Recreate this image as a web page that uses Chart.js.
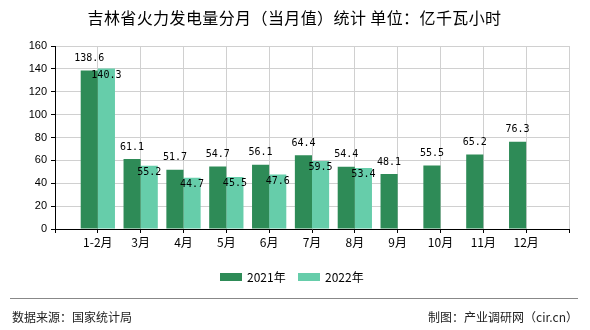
<!DOCTYPE html>
<html>
<head>
<meta charset="utf-8">
<script src="https://cdn.jsdelivr.net/npm/chart.js@4"></script>
<style>
  body { margin: 0; background: #fff; }
  #wrap { position: relative; width: 590px; height: 330px; font-family: "Noto Sans CJK SC", sans-serif; color: #000; }
  #chart { position: absolute; left: 0; top: 0; }
  #title { position: absolute; left: 0; width: 589px; top: 7px; text-align: center; font-size: 16px; line-height: 20px; letter-spacing: 0.4px; }
  .leg { position: absolute; top: 270px; font-size: 12px; line-height: 14px; }
  .leg i { position: absolute; top: 3px; width: 22px; height: 8px; }
  #foot { position: absolute; left: 10px; top: 298px; width: 568px; border-top: 1px solid #888; }
  .src { position: absolute; top: 309px; font-size: 12px; line-height: 16px; color: #222; }
</style>
</head>
<body>
<div id="wrap">
  <canvas id="chart" width="590" height="330"></canvas>
  <div id="title">吉林省火力发电量分月（当月值）统计 单位：亿千瓦小时</div>
  <div class="leg" style="left:220px"><i style="left:0;background:#2e8b57"></i><span style="margin-left:27px">2021年</span></div>
  <div class="leg" style="left:298px"><i style="left:0;background:#66cdaa"></i><span style="margin-left:27px">2022年</span></div>
  <div id="foot"></div>
  <div class="src" style="left:12px">数据来源：国家统计局</div>
  <div class="src" style="right:12px">制图：产业调研网（cir.cn）</div>
</div>
<script>
const meses = ["1-2月", "3月", "4月", "5月", "6月", "7月", "8月", "9月", "10月", "11月", "12月"];
const valores2021 = [138.6, 61.1, 51.7, 54.7, 56.1, 64.4, 54.4, 48.1, 55.5, 65.2, 76.3];
const valores2022 = [140.3, 55.2, 44.7, 45.5, 47.6, 59.5, 53.4];
const ticksY = [0, 20, 40, 60, 80, 100, 120, 140, 160];

// empty slot at each end so bars sit on the grid lines
const labels = ["", ...meses, ""];
const serie = v => [null, ...meses.map((m, i) => (v[i] === undefined ? null : v[i])), null];

const rotulos = {
  id: "rotulos",
  afterDatasetsDraw(chart) {
    const ctx = chart.ctx;
    ctx.save();
    ctx.font = '10px "DejaVu Sans Mono"';
    ctx.fillStyle = "#000";
    ctx.textAlign = "center";
    ctx.textBaseline = "middle";
    chart.data.datasets.forEach((ds, di) => {
      chart.getDatasetMeta(di).data.forEach((el, i) => {
        const v = ds.data[i];
        if (v === null) return;
        const dy = di === 0 ? -12 : 6.5;
        ctx.fillText(v.toFixed(1), el.x, el.y + dy);
      });
    });
    ctx.restore();
  }
};

new Chart(document.getElementById("chart"), {
  type: "bar",
  data: {
    labels: labels,
    datasets: [
      { label: "2021年", data: serie(valores2021), backgroundColor: "#2e8b57", categoryPercentage: 0.8, barPercentage: 1 },
      { label: "2022年", data: serie(valores2022), backgroundColor: "#66cdaa", categoryPercentage: 0.8, barPercentage: 1 }
    ]
  },
  options: {
    responsive: false,
    animation: false,
    layout: { padding: { top: 46, left: 0, right: 21, bottom: 71 } },
    plugins: { legend: { display: false }, title: { display: false }, tooltip: { enabled: false } },
    scales: {
      x: {
        offset: false,
        grid: { offset: false, color: "#d0d0d0", tickColor: "#000", tickLength: 4 },
        border: { color: "#000" },
        ticks: { color: "#000", font: { size: 12, family: '"Noto Sans CJK SC"' }, padding: 2, maxRotation: 0, autoSkip: false },
        afterFit: s => { s.height = 30; }
      },
      y: {
        min: ticksY[0],
        max: ticksY[ticksY.length - 1],
        afterBuildTicks: s => { s.ticks = ticksY.map(v => ({ value: v })); },
        grid: { color: "#d0d0d0", tickColor: "#000", tickLength: 4 },
        border: { color: "#000" },
        ticks: { color: "#000", font: { size: 11, family: '"Liberation Sans"' }, padding: 4 },
        afterFit: s => { s.width = 55; }
      }
    }
  },
  plugins: [rotulos]
});
</script>
</body>
</html>
